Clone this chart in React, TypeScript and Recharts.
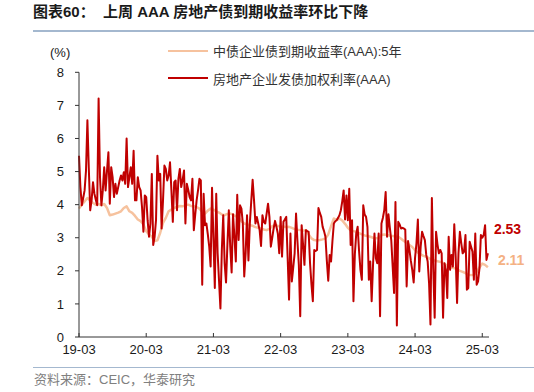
import { Line, LineChart, ReferenceDot, XAxis, YAxis } from "recharts";

// Chart 60: AAA real-estate bond yields, weekly-ish since 2019-03.
// x is months since 2019-03 (red: 4 points per month, orange: 2 per month).

const FONT = '"Liberation Sans", Arial, "Noto Sans CJK SC", sans-serif';

const TITLE = "图表60：  上周 AAA 房地产债到期收益率环比下降";
const SOURCE = "资料来源：CEIC，华泰研究";
const NAME_BOND = "中债企业债到期收益率(AAA):5年";
const NAME_ISSUE = "房地产企业发债加权利率(AAA)";

const X_TICK_LABELS = ["19-03", "20-03", "21-03", "22-03", "23-03", "24-03", "25-03"];
const Y_TICKS = [0, 1, 2, 3, 4, 5, 6, 7, 8];

const RED = "#C00000";
const ORANGE = "#F6C29E";

// 房地产企业发债加权利率(AAA), 4 values per month
const issueRate = [
  5.48, 4.53, 3.98, 4.2, 4.43, 5.03, 6.55, 5.1, 3.83, 4.13,
  4.68, 4.33, 4.15, 3.98, 7.21, 4.83, 3.98, 4.43, 5.13, 4.43,
  5.03, 5.58, 4.03, 5.13, 4.83, 4.23, 4.63, 4.33, 4.53, 4.73,
  4.88, 4.73, 4.98, 4.63, 6.0, 4.53, 4.83, 5.13, 4.63, 5.63,
  4.13, 4.13, 4.83, 4.53, 4.43, 3.93, 3.18, 4.28, 4.23, 3.53,
  3.03, 3.43, 4.93, 2.78, 3.03, 3.53, 5.48, 4.73, 4.93, 3.28,
  4.13, 5.18, 5.08, 4.73, 4.88, 5.28, 4.43, 3.48, 4.68, 4.73,
  3.83, 4.78,
  5.08, 4.53, 4.75, 5.03, 3.43, 4.63, 4.45, 4.23, 4.13, 4.78,
  3.23, 3.7, 4.13, 4.43, 4.78, 4.73, 1.58, 4.33, 3.38, 3.43,
  3.1, 2.73, 2.13, 4.51, 3.0, 1.48, 4.33, 2.53, 1.7, 0.86,
  2.63, 3.68, 2.23, 1.65, 2.8, 3.83, 2.73, 1.95, 3.71, 3.03,
  2.28, 4.3, 2.93, 3.98, 3.88, 3.43, 1.83, 2.53, 3.68, 2.31,
  3.43, 4.1, 4.75, 4.13, 3.43, 3.63, 3.43, 3.23, 2.75, 3.68,
  3.48, 3.43, 3.73, 4.03, 3.63, 2.73, 3.0, 3.28, 3.51, 3.33,
  3.13, 2.53,
  3.63, 2.43, 3.48, 3.55, 3.63, 2.4, 1.13, 3.13, 1.68, 2.1,
  2.53, 3.73, 2.9, 2.18, 0.63, 3.38, 2.8, 2.18, 3.23, 3.2,
  3.18, 2.23, 1.6, 1.08, 2.63, 2.6, 2.63, 3.9, 3.75, 3.63,
  3.33, 3.2, 3.03, 2.3, 1.7, 2.48, 2.28, 2.9, 3.43, 3.5,
  3.53, 3.6, 3.68, 3.83, 4.1, 4.43, 3.55, 4.28, 3.53, 4.48,
  2.78, 3.53, 1.08, 2.5, 3.13, 3.33, 2.6, 2.03, 1.73, 3.98,
  3.7, 3.63, 3.33, 1.73, 2.28, 1.08, 2.2, 3.13, 2.38, 2.23,
  3.13, 0.63,
  3.43, 3.6, 3.83, 4.38, 3.03, 3.71, 3.3, 2.93, 2.13, 1.33,
  4.08, 0.35, 3.48, 3.4, 3.28, 3.3, 3.28, 3.25, 1.53, 2.9,
  2.63, 2.3, 2.03, 1.65, 2.4, 2.83, 3.55, 1.98, 2.73, 3.18,
  3.05, 2.93, 2.48, 2.28, 1.63, 0.38, 4.2, 2.08, 0.58, 3.18,
  2.8, 2.53, 2.63, 2.53, 0.58, 2.23, 2.03, 1.18, 3.03, 2.03,
  2.48, 2.13, 3.41, 2.43, 1.03, 2.53, 3.18, 2.83, 2.53, 2.58,
  3.08, 1.43, 1.48, 2.88, 2.73, 2.58, 1.73, 3.13, 1.58, 1.68,
  2.08, 3.08, 3.0, 3.08, 3.38, 2.33, 2.53,
];

// 中债企业债到期收益率(AAA):5年, 2 values per month
const bondYield = [
  3.88, 4.0, 4.1, 4.2, 4.12, 4.05, 4.0, 4.02, 3.98, 4.02,
  3.9, 3.68, 3.7, 3.73, 3.76, 3.8, 3.9, 3.95, 3.8, 3.75,
  3.66, 3.55, 3.5, 3.4, 3.2, 3.1, 3.03, 2.9, 2.92, 3.15,
  3.45, 3.6, 3.8, 3.85, 3.9, 3.93, 3.96, 3.95, 3.98, 4.0,
  3.96, 3.95, 3.93, 3.88, 3.78, 3.73, 3.82, 3.88, 3.85, 3.8,
  3.76, 3.7, 3.68, 3.72, 3.73, 3.7, 3.65, 3.6, 3.5, 3.43,
  3.4, 3.38, 3.36, 3.32, 3.3, 3.28, 3.25, 3.23, 3.27, 3.35,
  3.38, 3.36, 3.33, 3.34, 3.32, 3.33, 3.3, 3.26, 3.24, 3.23,
  3.22, 3.23, 3.1, 2.98, 2.93, 2.92, 2.93, 2.95, 2.98, 3.1,
  3.35, 3.58, 3.53, 3.58, 3.52, 3.42, 3.3, 3.22, 3.2, 3.18,
  3.14, 3.1, 3.07, 3.05, 3.03, 3.0, 2.98, 3.0, 3.08, 3.1,
  3.08, 3.06, 3.05, 3.04, 3.03, 2.97, 2.9, 2.84, 2.78, 2.72,
  2.62, 2.55, 2.5, 2.45, 2.42, 2.38, 2.33, 2.31, 2.29, 2.27,
  2.24, 2.18, 2.13, 2.1, 2.08, 2.05, 2.0, 1.97, 1.93, 1.88,
  1.87, 1.88, 1.97, 2.1, 2.22, 2.18, 2.11,
];

const rows = issueRate.map((v, i) => ({
  t: i / 4,
  issue: v,
  bond: i % 2 === 0 ? bondYield[i / 2] : null,
}));

const legendItems = [
  { name: NAME_BOND, color: ORANGE },
  { name: NAME_ISSUE, color: RED },
];

const xTicks = X_TICK_LABELS.map((_, i) => i * 12);
const lastT = (issueRate.length - 1) / 4;
const lastIssue = issueRate[issueRate.length - 1];
const lastBond = bondYield[bondYield.length - 1];

function XTick(props: any) {
  const { x, y, payload } = props;
  const label = X_TICK_LABELS[Math.round(payload.value / 12)];
  return (
    <g>
      <line x1={x} x2={x} y1={y} y2={y - 4} stroke="#333" />
      <text x={x} y={y + 17} textAnchor="middle" fontSize={13} fontFamily={FONT} fill="#1a1a1a">
        {label}
      </text>
    </g>
  );
}

function endLabel(text: string, color: string, dx: number, dy: number) {
  return (props: any) => {
    const vb = props.viewBox;
    if (!vb) return null;
    return (
      <text
        x={vb.x + vb.width / 2 + dx}
        y={vb.y + vb.height / 2 + dy}
        dominantBaseline="central"
        fill={color}
        fontSize={14}
        fontWeight={700}
        fontFamily={FONT}
      >
        {text}
      </text>
    );
  };
}

export default function App() {
  return (
    <div
      style={{
        position: "absolute",
        left: 0,
        top: 0,
        width: 534,
        height: 392,
        background: "#fff",
        fontFamily: FONT,
      }}
    >
      <div style={{ position: "absolute", left: 0, top: 0 }}>
        <LineChart
          width={534}
          height={392}
          data={rows}
          margin={{ top: 72.3, right: 45, bottom: 25, left: 39 }}
        >
          <XAxis
            dataKey="t"
            type="number"
            domain={[0, 73.2]}
            ticks={xTicks}
            interval={0}
            height={30}
            tickSize={0}
            tickMargin={0}
            tickLine={false}
            axisLine={{ stroke: "#333" }}
            tick={<XTick />}
          />
          <YAxis
            domain={[0, 8]}
            ticks={Y_TICKS}
            interval={0}
            width={40}
            tickSize={4}
            tickMargin={11}
            tickLine={{ stroke: "#333" }}
            axisLine={{ stroke: "#333" }}
            tick={{ fontSize: 13, fontFamily: FONT, fill: "#1a1a1a" }}
          />
          <Line
            name={NAME_BOND}
            dataKey="bond"
            type="linear"
            stroke={ORANGE}
            strokeWidth={2.5}
            strokeLinejoin="round"
            dot={false}
            connectNulls
            isAnimationActive={false}
          />
          <Line
            name={NAME_ISSUE}
            dataKey="issue"
            type="linear"
            stroke={RED}
            strokeWidth={2}
            strokeLinejoin="round"
            dot={false}
            isAnimationActive={false}
          />
          <ReferenceDot
            x={lastT}
            y={lastIssue}
            r={2}
            fill="none"
            stroke="none"
            label={endLabel(lastIssue.toFixed(2), RED, 6, -24)}
          />
          <ReferenceDot
            x={lastT}
            y={lastBond}
            r={2}
            fill="none"
            stroke="none"
            label={endLabel(lastBond.toFixed(2), "#F4B183", 10, -7)}
          />
        </LineChart>
      </div>

      {/* legend */}
      <div style={{ position: "absolute", left: 168, top: 37, fontSize: 13, color: "#333" }}>
        {legendItems.map((it) => (
          <div key={it.name} style={{ display: "flex", alignItems: "center", height: 27.5 }}>
            <span style={{ display: "inline-block", width: 40, height: 2, background: it.color }} />
            <span style={{ marginLeft: 5, whiteSpace: "nowrap" }}>{it.name}</span>
          </div>
        ))}
      </div>

      <div
        style={{
          position: "absolute",
          left: 33,
          top: 2,
          fontSize: 15,
          lineHeight: "20px",
          fontWeight: 700,
          color: "#1a1a1a",
          whiteSpace: "pre",
        }}
      >
        {TITLE}
      </div>
      <div style={{ position: "absolute", left: 33, top: 30, width: 501, height: 2, background: "#A4B8CF" }} />
      <div style={{ position: "absolute", left: 50, top: 45, fontSize: 13, lineHeight: "16px", color: "#1a1a1a" }}>
        (%)
      </div>
      <div style={{ position: "absolute", left: 33, top: 367, width: 501, height: 1, background: "#A4B8CF" }} />
      <div style={{ position: "absolute", left: 34, top: 372, fontSize: 13, lineHeight: "16px", color: "#808080" }}>
        {SOURCE}
      </div>
    </div>
  );
}
